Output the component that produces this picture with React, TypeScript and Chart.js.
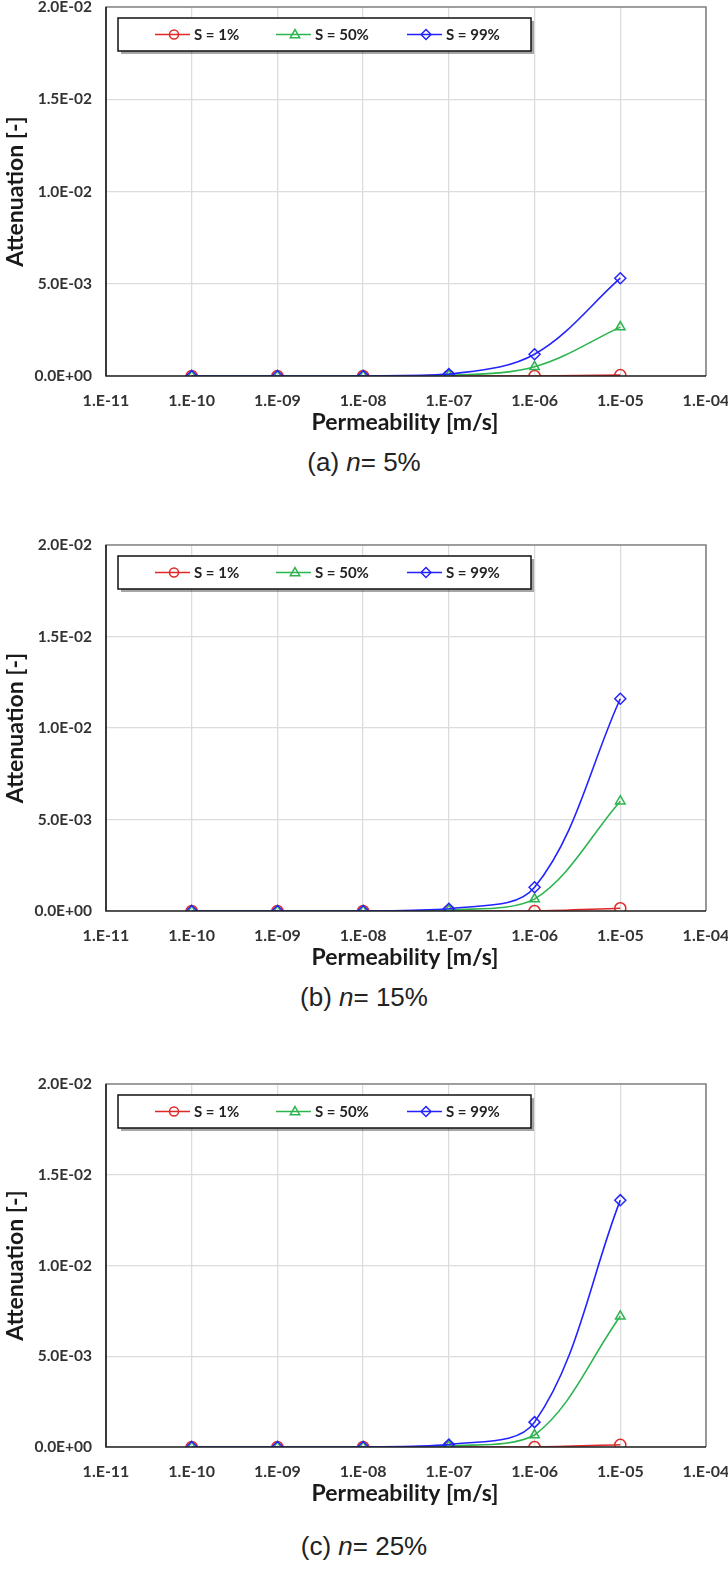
import React, { useEffect, useRef } from "react";
import { Chart, registerables } from "chart.js";

Chart.register(...registerables);

// ---------- data ----------
const permeability = [1e-10, 1e-9, 1e-8, 1e-7, 1e-6, 1e-5];
const xTickValues = [1e-11, 1e-10, 1e-9, 1e-8, 1e-7, 1e-6, 1e-5, 1e-4];
const yTickValues = [0, 0.005, 0.01, 0.015, 0.02];
const seriesLabels = ["S = 1%", "S = 50%", "S = 99%"];
const seriesColors = ["#e02828", "#2cb44e", "#2323ff"];
const seriesPointStyles = ["circle", "triangle", "rectRot"];

const n5_S1 = [0, 0, 0, 0, 0, 0.00005];
const n5_S50 = [0, 0, 0, 0.00004, 0.0005, 0.00265];
const n5_S99 = [0, 0, 0, 0.0001, 0.00118, 0.0053];

const n15_S1 = [0, 0, 0, 0, 0, 0.00015];
const n15_S50 = [0, 0, 0, 0.00005, 0.00065, 0.006];
const n15_S99 = [0, 0, 0, 0.00012, 0.0013, 0.0116];

const n25_S1 = [0, 0, 0, 0, 0, 0.00012];
const n25_S50 = [0, 0, 0, 0.00005, 0.00066, 0.0072];
const n25_S99 = [0, 0, 0, 0.00013, 0.00137, 0.0136];

const xTitle = "Permeability [m/s]";
const yTitle = "Attenuation [-]";

const panels = [
  { prefix: "(a) ", n: "n", rest: "= 5%", series: [n5_S1, n5_S50, n5_S99], canvasTop: 0, plotH: 371, captionY: 462 },
  { prefix: "(b) ", n: "n", rest: "= 15%", series: [n15_S1, n15_S50, n15_S99], canvasTop: 538, plotH: 368, captionY: 997 },
  { prefix: "(c) ", n: "n", rest: "= 25%", series: [n25_S1, n25_S50, n25_S99], canvasTop: 1077, plotH: 365, captionY: 1546 },
];

const FONT = "Lato, 'Open Sans', sans-serif";
const PAD_TOP = 5;
const X_AXIS_H = 64;

function fmtX(v: number) {
  const e = Math.round(Math.log10(v));
  const s = Math.abs(e).toString().padStart(2, "0");
  return "1.E" + (e < 0 ? "-" : "+") + s;
}
function fmtY(v: number) {
  if (v === 0) return "0.0E+00";
  const e = Math.floor(Math.log10(Math.abs(v)) + 1e-9);
  const m = v / Math.pow(10, e);
  return m.toFixed(1) + "E" + (e < 0 ? "-" : "+") + Math.abs(e).toString().padStart(2, "0");
}

function drawMarker(ctx: CanvasRenderingContext2D, style: string, x: number, y: number, r: number) {
  ctx.beginPath();
  if (style === "circle") {
    ctx.arc(x, y, r, 0, Math.PI * 2);
  } else if (style === "triangle") {
    ctx.moveTo(x, y - r * 1.1);
    ctx.lineTo(x + r * 1.05, y + r * 0.7);
    ctx.lineTo(x - r * 1.05, y + r * 0.7);
    ctx.closePath();
  } else {
    ctx.moveTo(x, y - r * 1.1);
    ctx.lineTo(x + r * 1.1, y);
    ctx.lineTo(x, y + r * 1.1);
    ctx.lineTo(x - r * 1.1, y);
    ctx.closePath();
  }
  ctx.stroke();
}

const decorPlugin = {
  id: "decor",
  afterDraw(chart: any) {
    const ctx = chart.ctx as CanvasRenderingContext2D;
    const a = chart.chartArea;
    ctx.save();
    // frame
    ctx.strokeStyle = "#858585";
    ctx.lineWidth = 1.6;
    ctx.beginPath();
    ctx.moveTo(a.left, a.bottom);
    ctx.lineTo(a.left, a.top);
    ctx.lineTo(a.right, a.top);
    ctx.lineTo(a.right, a.bottom);
    ctx.stroke();
    ctx.strokeStyle = "#222";
    ctx.beginPath();
    ctx.moveTo(a.left, a.top);
    ctx.lineTo(a.left, a.bottom);
    ctx.lineTo(a.right, a.bottom);
    ctx.stroke();

    // legend box
    const lx = a.left + 12, ly = a.top + 11, lw = 413, lh = 33;
    ctx.fillStyle = "rgba(0,0,0,0.35)";
    ctx.fillRect(lx + 3, ly + 3, lw, lh);
    ctx.fillStyle = "#fff";
    ctx.fillRect(lx, ly, lw, lh);
    ctx.strokeStyle = "#111";
    ctx.lineWidth = 1.5;
    ctx.strokeRect(lx, ly, lw, lh);
    const cy = ly + lh / 2;
    const starts = [a.left + 49, a.left + 170, a.left + 301];
    ctx.font = "bold 15px " + FONT;
    ctx.textBaseline = "middle";
    ctx.textAlign = "left";
    chart.data.datasets.forEach((ds: any, i: number) => {
      const sx = starts[i];
      ctx.strokeStyle = ds.borderColor;
      ctx.lineWidth = 1.5;
      ctx.beginPath();
      ctx.moveTo(sx, cy);
      ctx.lineTo(sx + 35, cy);
      ctx.stroke();
      drawMarker(ctx, ds.pointStyle, sx + 19, cy, 4.5);
      ctx.fillStyle = "#222";
      ctx.fillText(ds.label, sx + 39, cy + 1);
    });

    // axis titles
    ctx.fillStyle = "#1a1a1a";
    ctx.font = "bold 23px " + FONT;
    ctx.textAlign = "center";
    ctx.textBaseline = "middle";
    ctx.fillText(xTitle, (a.left + a.right) / 2 - 1, a.bottom + 47);
    ctx.save();
    ctx.translate(16, (a.top + a.bottom) / 2);
    ctx.rotate(-Math.PI / 2);
    ctx.font = "bold 23px " + FONT;
    ctx.fillText(yTitle, 0, 0);
    ctx.restore();
    ctx.restore();
  },
};

function Panel({ series, plotH }: { series: number[][]; plotH: number }) {
  const ref = useRef<HTMLCanvasElement | null>(null);
  useEffect(() => {
    if (!ref.current) return;
    const order = [3, 2, 1];
    const chart = new Chart(ref.current, {
      type: "line",
      data: {
        datasets: series.map((vals, i) => ({
          label: seriesLabels[i],
          data: permeability.map((x, j) => ({ x, y: vals[j] })),
          borderColor: seriesColors[i],
          backgroundColor: "rgba(0,0,0,0)",
          pointBackgroundColor: "rgba(0,0,0,0)",
          pointBorderColor: seriesColors[i],
          pointStyle: seriesPointStyles[i],
          pointRadius: 5.5,
          pointBorderWidth: 1.5,
          borderWidth: 1.6,
          tension: 0.35,
          fill: false,
          order: order[i],
        })),
      },
      options: {
        animation: false,
        responsive: false,
        maintainAspectRatio: false,
        layout: { padding: { top: PAD_TOP, right: 22, left: 0, bottom: 0 } },
        plugins: { legend: { display: false }, tooltip: { enabled: false } },
        scales: {
          x: {
            type: "logarithmic",
            min: xTickValues[0],
            max: xTickValues[xTickValues.length - 1],
            afterBuildTicks: (s: any) => {
              s.ticks = xTickValues.map((v) => ({ value: v }));
            },
            afterFit: (s: any) => {
              s.height = X_AXIS_H;
              s.paddingLeft = 0;
              s.paddingRight = 0;
            },
            grid: { color: "#dcdcdc", lineWidth: 1.3, drawTicks: false },
            border: { display: false },
            ticks: {
              autoSkip: false,
              maxRotation: 0,
              padding: 15,
              color: "#333",
              font: { family: FONT, size: 16, weight: "bold" },
              callback: (v: any) => fmtX(Number(v)),
            },
          },
          y: {
            type: "linear",
            min: 0,
            max: 0.02,
            afterBuildTicks: (s: any) => {
              s.ticks = yTickValues.map((v) => ({ value: v }));
            },
            afterFit: (s: any) => {
              s.width = 106;
              s.paddingTop = 0;
              s.paddingBottom = 0;
            },
            grid: { color: "#dcdcdc", lineWidth: 1.3, drawTicks: false },
            border: { display: false },
            ticks: {
              padding: 14,
              color: "#333",
              font: { family: FONT, size: 15.5, weight: "bold" },
              callback: (v: any) => fmtY(Number(v)),
            },
          },
        },
      } as any,
      plugins: [decorPlugin],
    });
    return () => chart.destroy();
  }, [series, plotH]);
  return <canvas ref={ref} width={728} height={PAD_TOP + plotH + X_AXIS_H} style={{ display: "block" }} />;
}

export default function App() {
  return (
    <div style={{ position: "relative", width: 728, height: 1575, background: "#fff" }}>
      <style>{"body{margin:0;background:#fff}"}</style>
      {panels.map((p, i) => (
        <React.Fragment key={i}>
          <div style={{ position: "absolute", left: 0, top: p.canvasTop }}>
            <Panel series={p.series} plotH={p.plotH} />
          </div>
          <div
            style={{
              position: "absolute",
              left: 0,
              width: 728,
              top: p.captionY - 16,
              height: 32,
              lineHeight: "32px",
              textAlign: "center",
              fontFamily: "'Liberation Sans Narrow', 'Liberation Sans', Arial, sans-serif",
              fontSize: 26,
              color: "#222",
            }}
          >
            {p.prefix}
            <i>{p.n}</i>
            {p.rest}
          </div>
        </React.Fragment>
      ))}
    </div>
  );
}
